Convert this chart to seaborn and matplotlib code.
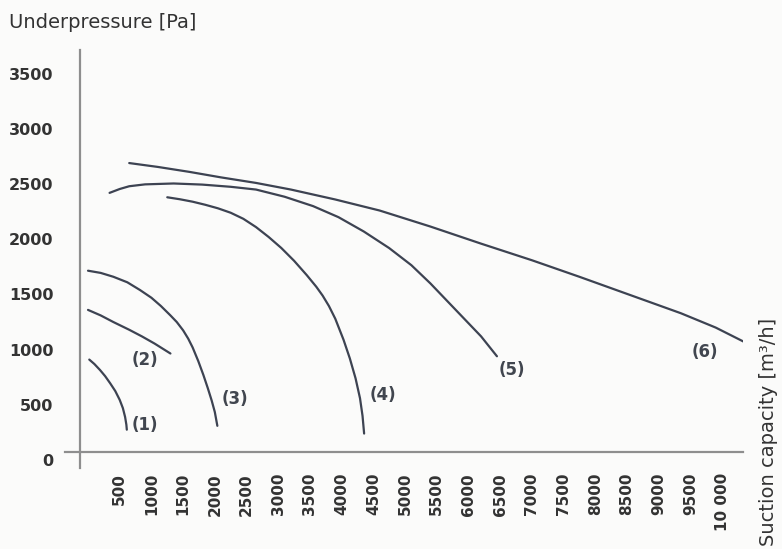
import pandas as pd
import matplotlib.pyplot as plt
import seaborn as sns

# Fan curves: suction capacity [m3/h] vs underpressure [Pa]
curve_names = ["(1)", "(2)", "(3)", "(4)", "(5)", "(6)"]
capacity_1 = [20, 100, 190, 270, 350, 430, 500, 550, 585, 605, 612]
pressure_1 = [910, 870, 815, 760, 695, 625, 545, 470, 390, 320, 275]
capacity_2 = [0, 200, 400, 650, 850, 1050, 1300]
pressure_2 = [1360, 1310, 1250, 1180, 1120, 1055, 965]
capacity_3 = [0, 200, 400, 620, 820, 1000, 1150, 1300, 1400, 1500, 1580, 1650, 1740,
              1820, 1890, 1950, 2000, 2040]
pressure_3 = [1715, 1695, 1660, 1610, 1540, 1470, 1395, 1310, 1250, 1175, 1100, 1020, 895,
              770, 650, 540, 435, 310]
capacity_4 = [1250, 1450, 1650, 1850, 2050, 2250, 2450, 2650, 2850, 3050, 3250, 3450,
              3600, 3700, 3800, 3900, 4030, 4130, 4220, 4290, 4330, 4355]
pressure_4 = [2380, 2362, 2340, 2312, 2280, 2240, 2185, 2110, 2020, 1920, 1805, 1675,
              1570, 1490, 1395, 1280, 1090, 920, 740, 560, 400, 240]
capacity_5 = [340, 500, 650, 900, 1350, 1800, 2250, 2650, 3100, 3550, 3950, 4350,
              4750, 5100, 5400, 5650, 5900, 6200, 6450]
pressure_5 = [2420, 2455, 2480, 2497, 2505, 2495, 2475, 2450, 2385, 2300, 2200, 2070,
              1920, 1765, 1600, 1450, 1300, 1120, 940]
capacity_6 = [650, 1100, 1600, 2100, 2650, 3200, 3900, 4600, 5400, 6200, 7000, 7750,
              8550, 9350, 9900, 10350]
pressure_6 = [2690, 2655, 2610, 2560, 2510, 2450, 2360, 2260, 2115, 1960, 1810, 1660,
              1495, 1330, 1200, 1070]

# where the "(n)" labels sit
label_x = [900, 900, 2320, 4650, 6690, 9730]
label_y = [320, 905, 555, 590, 815, 980]

x_ticks = list(range(500, 10001, 500))
x_tick_labels = [str(v) if v < 10000 else "10 000" for v in x_ticks]
y_ticks = [0, 500, 1000, 1500, 2000, 2500, 3000, 3500]

all_cap = [capacity_1, capacity_2, capacity_3, capacity_4, capacity_5, capacity_6]
all_pre = [pressure_1, pressure_2, pressure_3, pressure_4, pressure_5, pressure_6]
rows = []
for name, xs, ys in zip(curve_names, all_cap, all_pre):
    for xv, yv in zip(xs, ys):
        rows.append({"curve": name, "capacity": xv, "pressure": yv})
df = pd.DataFrame(rows)

sns.set_style("white")
plt.rcParams['font.family'] = ['DejaVu Sans']

line_col = "#3d4352"
axis_col = "#8e8e8e"
text_col = "#333333"

fig = plt.figure(figsize=(7.82, 5.49), dpi=100)
fig.patch.set_facecolor("#fbfbfa")
ax = fig.add_axes([65 / 782, 1 - 468 / 549, (743 - 65) / 782, (468 - 50) / 549])
ax.set_facecolor("#fbfbfa")

sns.lineplot(data=df, x="capacity", y="pressure", units="curve", estimator=None,
             sort=False, color=line_col, linewidth=1.6, ax=ax)
for ln in ax.get_lines():
    ln.set_solid_joinstyle("round")

for name, lx, ly in zip(curve_names, label_x, label_y):
    ax.text(lx, ly, name, fontsize=12, fontweight="bold", color="#41464f",
            ha="center", va="center")

ax.set_xlim(-363, 10331)
ax.set_ylim(-72, 3714)

for s in ["top", "right"]:
    ax.spines[s].set_visible(False)
ax.spines["left"].set_position(("data", -126))
ax.spines["bottom"].set_position(("data", 72))
for s in ["left", "bottom"]:
    ax.spines[s].set_color(axis_col)
    ax.spines[s].set_linewidth(1.6)

ax.set_xticks(x_ticks)
ax.set_xticklabels(x_tick_labels, rotation=90, fontsize=11, fontweight="bold",
                   color=text_col)
ax.tick_params(axis="x", direction="out", length=9, width=1.2, color=axis_col, pad=6)

ax.set_yticks(y_ticks)
ax.set_yticklabels([str(v) for v in y_ticks], fontsize=11.5, fontweight="bold", color=text_col)
ax.tick_params(axis="y", direction="out", length=10, width=1, color=axis_col, pad=9)
ax.yaxis.get_major_ticks()[0].tick1line.set_visible(False)

ax.set_xlabel("")
ax.set_ylabel("")

fig.text(9 / 782, 1 - 22 / 549, "Underpressure [Pa]", fontsize=14, color=text_col,
         ha="left", va="center")
fig.text(768 / 782, 1 - 546 / 549, "Suction capacity [m³/h]", fontsize=14, color=text_col,
         rotation=90, ha="center", va="bottom")

fig.savefig("out.png", dpi=100, facecolor=fig.get_facecolor())
